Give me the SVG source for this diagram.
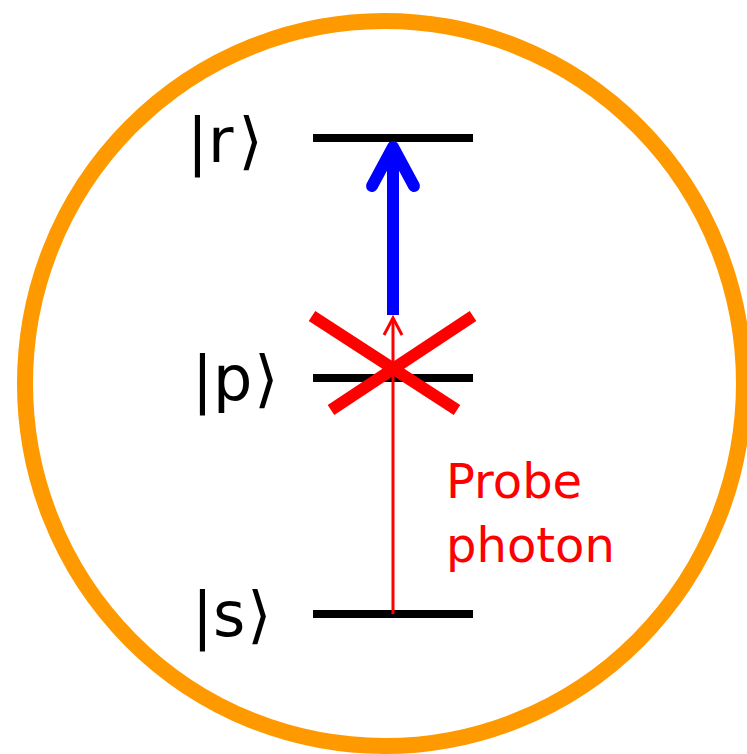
<svg xmlns="http://www.w3.org/2000/svg" width="747" height="754" viewBox="0 0 747 754">
<style>
.level{stroke:#000;stroke-width:8;fill:none}
.ket{font-family:"DejaVu Sans",sans-serif;font-size:62px;fill:#000}
.lbl{font-family:"DejaVu Sans",sans-serif;font-size:48px;fill:#FF0000}
</style>
<rect width="747" height="754" fill="#fff"/>
<ellipse id="boundary" cx="384.5" cy="383.5" rx="359.5" ry="362.5" fill="none" stroke="#FF9900" stroke-width="16"/>
<g id="level-r"><line class="level" x1="313" y1="138" x2="473" y2="138"/><text class="ket" x="187" y="162">|r<tspan dx="5">⟩</tspan></text></g>
<g id="level-p"><line class="level" x1="313" y1="378" x2="473" y2="378"/><text class="ket" x="192" y="400">|p<tspan dx="2">⟩</tspan></text></g>
<g id="level-s"><line class="level" x1="313" y1="614" x2="473" y2="614"/><text class="ket" x="192" y="636">|s<tspan dx="2">⟩</tspan></text></g>
<g id="connectors">
<g id="blue-arrow" stroke="#0000FF" stroke-width="12" fill="none">
<line x1="393" y1="315" x2="393" y2="150" stroke-linecap="butt"/>
<polyline points="372,186 393,147 414,186" stroke-linecap="round" stroke-linejoin="round"/>
</g>
<g id="probe-arrow" stroke="#FF0000" stroke-width="3" fill="none">
<line x1="393" y1="614" x2="393" y2="318"/>
<polyline points="384,335 393,318 402,335"/>
</g>
<g id="cross" stroke="#FF0000" stroke-width="12">
<line x1="312" y1="316" x2="457" y2="410"/>
<line x1="473" y1="316" x2="331" y2="410"/>
</g>
</g>
<g id="probe-label"><text class="lbl" x="446" y="498">Probe</text><text class="lbl" x="446" y="562">photon</text></g>
</svg>
